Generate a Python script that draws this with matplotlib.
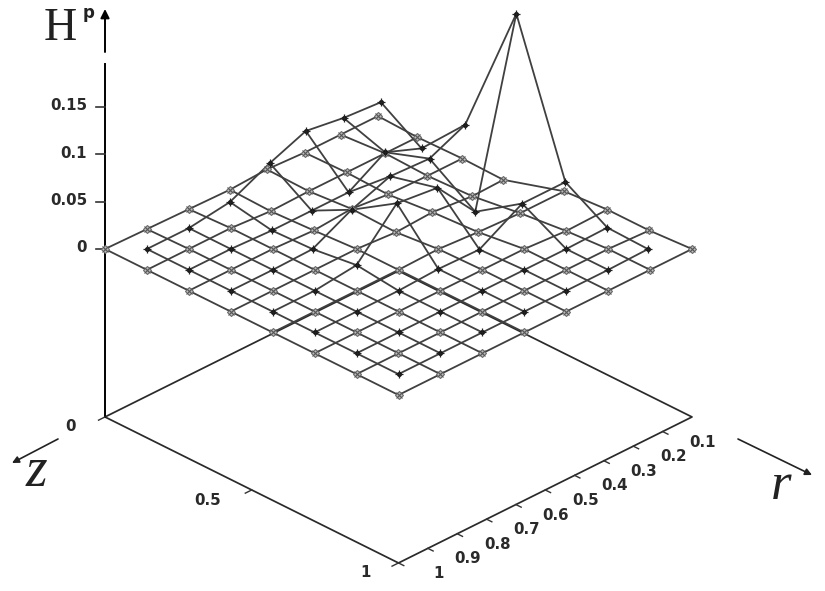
import numpy as np
import matplotlib
matplotlib.use("Agg")
import matplotlib.pyplot as plt

# Surface heights, indexed [step along r axis from r=1][step along z]
H_LIGHT = [
 [0, 0, 0, 0, 0, 0, 0, 0],
 [-.001, 0, 0, 0, 0, 0, 0, 0],
 [-.002, 0, 0, 0, 0, 0, 0, 0],
 [-.003, -.003, -.002, 0, 0, 0, 0, 0],
 [-.001, -.002, .001, -.003, .001, 0, 0, 0],
 [-.003, -.002, -.003, -.001, -.002, 0, 0, 0],
 [-.003, -.002, -.004, -.005, -.004, -.003, 0, 0],
 [-.003, -.002, -.004, -.004, -.004, -.002, -.002, 0],
]
# displacement of each vertex along the r grid, in grid steps
SHIFT_LIGHT = [
 [0, 0, 0, 0, 0, 0, 0, 0],
 [0, 0, 0, 0, 0, 0, 0, 0],
 [0, 0, 0, 0, 0, 0, 0, 0],
 [-.02, -.05, -.02, 0, 0, 0, 0, 0],
 [-.14, -.14, -.12, -.06, -.05, 0, 0, 0],
 [-.24, -.24, -.25, -.19, -.10, 0, 0, 0],
 [-.38, -.32, -.31, -.24, -.10, 0, 0, 0],
 [-.49, -.55, -.48, -.50, -.05, -.02, -.02, 0],
]
H_DARK = [
 [0, 0, 0, 0, 0, 0, 0],
 [0, 0, 0, 0, 0, 0, 0],
 [.006, -.002, .001, .005, 0, 0, 0],
 [.026, -.002, .022, .049, .002, 0, 0],
 [.041, -.002, .037, .044, .001, 0, 0],
 [.035, .021, .035, -.001, .027, 0, 0],
 [.032, .006, .052, .186, .027, .001, .001],
]
SHIFT_DARK = [
 [0, 0, 0, 0, 0, 0, 0],
 [0, 0, 0, 0, 0, 0, 0],
 [-.02, -.02, -.05, 0, 0, 0, 0],
 [-.07, -.07, -.12, -.04, -.05, 0, 0],
 [-.21, -.19, -.20, -.07, -.07, 0, 0],
 [-.31, -.32, -.26, -.17, -.05, 0, 0],
 [-.42, -.45, -.41, -.19, -.02, -.02, -.05],
]
STEPS_LIGHT = [0, 1, 2, 3, 4, 5, 6, 7]
STEPS_DARK = [.5, 1.5, 2.5, 3.5, 4.5, 5.5, 6.5]
N_STEPS = 7

H_TICKS = [0, .05, .1, .15]
H_LABELS = ["0", "0.05", "0.1", "0.15"]
R_TICKS = [.1, .2, .3, .4, .5, .6, .7, .8, .9, 1]
R_LABELS = ["0.1", "0.2", "0.3", "0.4", "0.5", "0.6", "0.7", "0.8", "0.9", "1"]
Z_TICKS = [0, .5, 1]
Z_LABELS = ["0", "0.5", "1"]
H_FLOOR = -.1768
H_TOP = .195


def project(r, z, h):
    r, z, h = np.asarray(r, float), np.asarray(z, float), np.asarray(h, float)
    return (105 + 293.5 * (1 - r + z),
            249 + 146 * (z - (1 - r)) - 950 * h)


fig = plt.figure(figsize=(8.25, 5.91), dpi=100)
ax = fig.add_axes([0, 0, 1, 1])
ax.set_xlim(0, 825)
ax.set_ylim(591, 0)
ax.axis("off")

LINE = "#404040"
TICK_FONT = dict(family="DejaVu Sans", fontweight="bold", fontsize=10.8, color="#2a2a2a")


def surface(steps, shift, height, marker_kw):
    steps = np.asarray(steps, float)
    u = steps[:, None] + np.asarray(shift, float)
    v = np.tile(steps, (len(steps), 1))
    x, y = project(1 - u / N_STEPS, v / N_STEPS, np.asarray(height, float))
    ax.plot(x, y, color=LINE, lw=1.3, zorder=3, solid_joinstyle="miter")
    ax.plot(x.T, y.T, color=LINE, lw=1.3, zorder=3, solid_joinstyle="miter")
    for kw in marker_kw:
        ax.plot(x.ravel(), y.ravel(), ls="none", zorder=4, **kw)


surface(STEPS_LIGHT, SHIFT_LIGHT, H_LIGHT, [
    dict(marker="D", ms=3.8, mfc="#bdbdbd", mec="#6a6a6a", mew=.8),
    dict(marker="x", ms=3.8, mec="#555555", mew=.8),
])
surface(STEPS_DARK, SHIFT_DARK, H_DARK, [
    dict(marker="o", ms=3.2, mfc="#111111", mec="#111111", mew=.4),
    dict(marker="+", ms=5.2, mec="#222222", mew=.9),
])

# floor outline
fx, fy = project([1, 0, 0, 1, 1], [0, 0, 1, 1, 0], [H_FLOOR] * 5)
ax.plot(fx, fy, color="#2a2a2a", lw=1.25, zorder=2)

# vertical axis
vx, vy = project([1, 1], [0, 0], [H_FLOOR, H_TOP])
ax.plot(vx, vy, color="black", lw=1.4, zorder=2)
ax.annotate("", xy=(105, 9), xytext=(105, 52),
            arrowprops=dict(arrowstyle="-|>", color="black", lw=1.4, mutation_scale=13,
                            shrinkA=0, shrinkB=0))
for t, lab in zip(H_TICKS, H_LABELS):
    x, y = project(1, 0, t)
    ax.plot([x - 9, x], [y, y], color="#333333", lw=1.2, zorder=2)
    ax.text(87, y - 1, lab, ha="right", va="center", **TICK_FONT)

# r axis ticks and labels
for t, lab in zip(R_TICKS, R_LABELS):
    x0, y0 = project(t, 1, H_FLOOR)
    x1, y1 = project(t, 1.018, H_FLOOR)
    ax.plot([x0, x1], [y0, y1], color="#333333", lw=1.0, zorder=2)
    ax.text(x0 + 40, y0 + 10.5, lab, ha="center", va="center", **TICK_FONT)
for t, lab, off in zip(Z_TICKS, Z_LABELS, [(-35, 10), (-44, 11), (-33, 10)]):
    x0, y0 = project(1, t, H_FLOOR)
    x1, y1 = project(1.022, t, H_FLOOR)
    ax.plot([x0, x1], [y0, y1], color="#333333", lw=1.0, zorder=2)
    ax.text(x0 + off[0], y0 + off[1], lab, ha="center", va="center", **TICK_FONT)

# axis direction arrows
for start, end in [((738, 439), (812, 475)), ((58, 439), (12, 463))]:
    ax.annotate("", xy=end, xytext=start,
                arrowprops=dict(arrowstyle="-|>", color="#222222", lw=1.2, mutation_scale=10,
                                shrinkA=0, shrinkB=0))

# axis names
ax.text(60, 29, "H", family="Liberation Serif", fontsize=33, ha="center", va="center", color="#222222")
ax.text(89, 13, "p", family="DejaVu Sans", fontweight="bold", fontsize=12, ha="center", va="center", color="#222222")
ax.text(36, 472, "z", family="Liberation Serif", style="italic", fontsize=40, ha="center", va="center", color="#222222")
ax.text(781, 486, "r", family="Liberation Serif", style="italic", fontsize=38, ha="center", va="center", color="#222222")

fig.savefig("out.png", dpi=100)
